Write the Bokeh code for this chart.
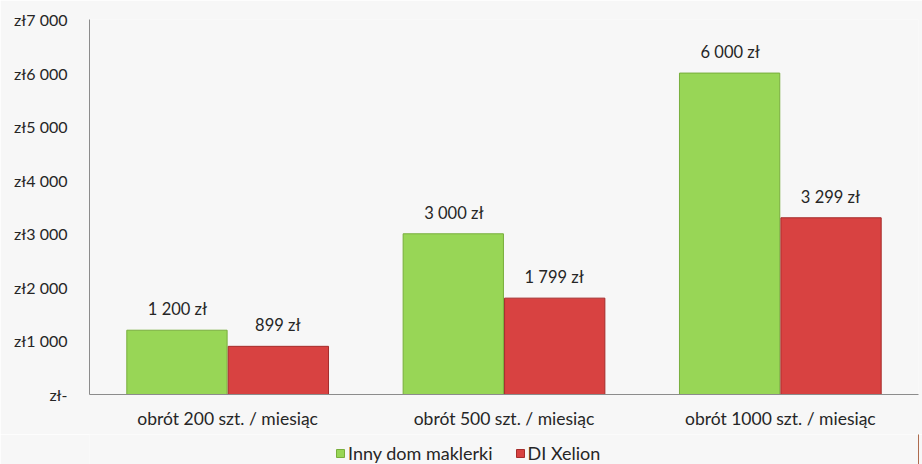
from bokeh.plotting import figure
from bokeh.layouts import column
from bokeh.models import ColumnDataSource, FactorRange, Range1d, FixedTicker, Legend, LegendItem
from bokeh.core.properties import value
from bokeh.transform import dodge
from bokeh.embed import file_html
from bokeh.resources import INLINE

categories = ["obrót 200 szt. / miesiąc", "obrót 500 szt. / miesiąc", "obrót 1000 szt. / miesiąc"]
series_names = ["Inny dom maklerki", "DI Xelion"]
inny = [1200, 3000, 6000]
xelion = [899, 1799, 3299]
inny_labels = ["1 200 zł", "3 000 zł", "6 000 zł"]
xelion_labels = ["899 zł", "1 799 zł", "3 299 zł"]
y_ticks = [0, 1000, 2000, 3000, 4000, 5000, 6000, 7000]
y_tick_labels = ["zł-", "zł1 000", "zł2 000", "zł3 000", "zł4 000", "zł5 000", "zł6 000", "zł7 000"]

FONT = "Lato"
BG = "#f7f7f7"
TXT = "#262626"
GREEN, GREEN_EDGE = "#98d656", "#78ae3c"
RED, RED_EDGE = "#d84241", "#a52c2b"

src = ColumnDataSource(dict(cat=categories, inny=inny, xelion=xelion,
                            il=inny_labels, xl=xelion_labels))

p = figure(width=922, height=434, x_range=FactorRange(*categories), y_range=Range1d(0, 7000),
           output_backend="svg", toolbar_location=None,
           background_fill_color=BG, border_fill_color=BG, outline_line_color=None,
           min_border_left=89, min_border_right=4, min_border_top=19, min_border_bottom=40)

w = 0.363
p.vbar(x=dodge("cat", -w / 2 - 0.002, range=p.x_range), top="inny", width=w, source=src,
       fill_color=GREEN, line_color=GREEN_EDGE, line_width=1)
p.vbar(x=dodge("cat", w / 2 + 0.002, range=p.x_range), top="xelion", width=w, source=src,
       fill_color=RED, line_color=RED_EDGE, line_width=1)

p.text(x=dodge("cat", -w / 2, range=p.x_range), y="inny", text="il", source=src,
       text_align="center", text_baseline="bottom", y_offset=-11,
       text_font=value(FONT), text_font_size="16.5px", text_color=TXT)
p.text(x=dodge("cat", w / 2, range=p.x_range), y="xelion", text="xl", source=src,
       text_align="center", text_baseline="bottom", y_offset=-11,
       text_font=value(FONT), text_font_size="16.5px", text_color=TXT)

p.xgrid.visible = False
p.ygrid.visible = False

p.yaxis.ticker = FixedTicker(ticks=y_ticks)
p.yaxis.major_label_overrides = {t: l for t, l in zip(y_ticks, y_tick_labels)}
p.yaxis.major_tick_line_color = None
p.yaxis.minor_tick_line_color = None
p.yaxis.major_tick_out = 0
p.yaxis.major_tick_in = 0
p.yaxis.axis_line_color = "#8c8c8c"
p.yaxis.major_label_text_font = FONT
p.yaxis.major_label_text_font_size = "16px"
p.yaxis.major_label_text_color = TXT
p.yaxis.major_label_standoff = 22

p.xaxis.major_tick_line_color = None
p.xaxis.minor_tick_line_color = None
p.xaxis.major_tick_out = 0
p.xaxis.major_tick_in = 0
p.xaxis.axis_line_color = "#8c8c8c"
p.xaxis.major_label_text_font = FONT
p.xaxis.major_label_text_font_size = "17.5px"
p.xaxis.major_label_text_color = TXT
p.xaxis.major_label_standoff = 13

# legend strip (frame is aligned with the main plot's frame by the column layout)
p2 = figure(width=922, height=30, x_range=Range1d(0, 1), y_range=Range1d(0, 1),
            output_backend="svg", toolbar_location=None, x_axis_type=None, y_axis_type=None,
            background_fill_color=BG, border_fill_color=BG, outline_line_color=None,
            min_border=0)
p2.xgrid.visible = False
p2.ygrid.visible = False
offscreen = dict(x=[5], top=[5])
lg = p2.vbar(x="x", top="top", width=0.1, source=ColumnDataSource(offscreen),
             fill_color=GREEN, line_color=GREEN_EDGE)
lr = p2.vbar(x="x", top="top", width=0.1, source=ColumnDataSource(offscreen),
             fill_color=RED, line_color=RED_EDGE)

legend = Legend(items=[LegendItem(label=series_names[0], renderers=[lg]),
                       LegendItem(label=series_names[1], renderers=[lr])],
                orientation="horizontal", location=(246, 0),
                background_fill_alpha=0, border_line_color=None,
                label_text_font=FONT, label_text_font_size="18px", label_text_color=TXT,
                glyph_width=10, glyph_height=10, spacing=22, label_standoff=3,
                padding=0, margin=0, label_height=14)
p2.add_layout(legend, "center")

layout = column(p, p2, spacing=0)
open("out.html", "w").write(file_html(layout, INLINE))
